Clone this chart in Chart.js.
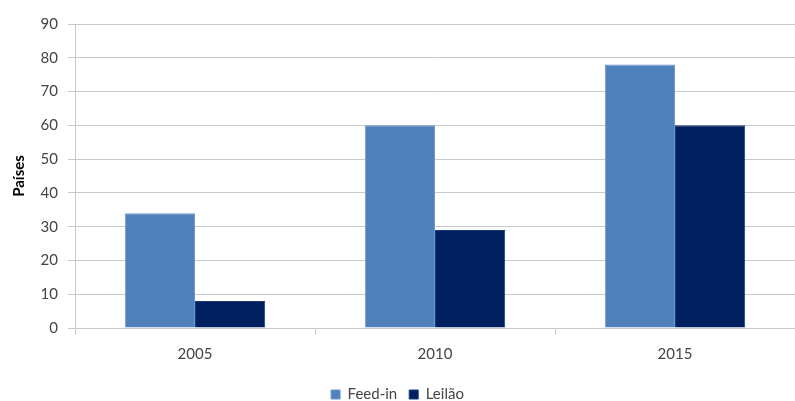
<!DOCTYPE html>
<html>
<head>
<meta charset="utf-8">
<script src="https://cdn.jsdelivr.net/npm/chart.js@4/dist/chart.umd.min.js"></script>
<style>
  html, body { margin: 0; padding: 0; background: #fff; }
  #wrap { width: 795px; height: 401px; }
</style>
</head>
<body>
<div id="wrap"><canvas id="chart"></canvas></div>
<script>
// values
const years = ["2005", "2010", "2015"];
const feedIn = [34, 60, 78];
const leilao = [8, 29, 60];
const yTicks = [0, 10, 20, 30, 40, 50, 60, 70, 80, 90];

const fontFamily = "Lato, 'Open Sans', sans-serif";
const gridColor = '#c9c9c9';
const textColor = '#444';

new Chart(document.getElementById('chart'), {
    type: 'bar',
    data: {
        labels: years,
        datasets: [
            { label: 'Feed-in', data: feedIn, backgroundColor: '#4f81bd', borderColor: '#6f97c8', borderWidth: 1 },
            { label: 'Leilão', data: leilao, backgroundColor: '#002060', borderColor: '#1c3a78', borderWidth: 1 }
        ]
    },
    options: {
        responsive: true,
        maintainAspectRatio: false,
        animation: false,
        // legend sits very close to the bottom edge in the original
        layout: { padding: { top: 24, right: 0, left: 0, bottom: -11 } },
        categoryPercentage: 0.585,
        barPercentage: 1,
        scales: {
            x: {
                offset: true,
                afterFit: (scale) => { scale.height = 47; },
                grid: { offset: true, drawOnChartArea: false, color: gridColor, tickLength: 7 },
                border: { color: gridColor },
                ticks: { font: { family: fontFamily, size: 15 }, color: textColor, padding: 10 }
            },
            y: {
                min: 0,
                max: 90,
                afterBuildTicks: (scale) => { scale.ticks = yTicks.map(v => ({ value: v })); },
                afterFit: (scale) => { scale.width = 75; },
                grid: { color: gridColor, tickLength: 7 },
                border: { color: gridColor },
                ticks: { font: { family: fontFamily, size: 15 }, color: textColor, padding: 10 },
                title: { display: true, text: 'Países', font: { family: fontFamily, size: 15, weight: 'bold' }, color: '#000', padding: { top: 10, bottom: 0 } }
            }
        },
        plugins: {
            legend: {
                position: 'bottom',
                labels: { font: { family: fontFamily, size: 15 }, color: textColor, boxWidth: 9, boxHeight: 9, padding: 12 }
            },
            tooltip: { enabled: false }
        }
    }
});
</script>
</body>
</html>
